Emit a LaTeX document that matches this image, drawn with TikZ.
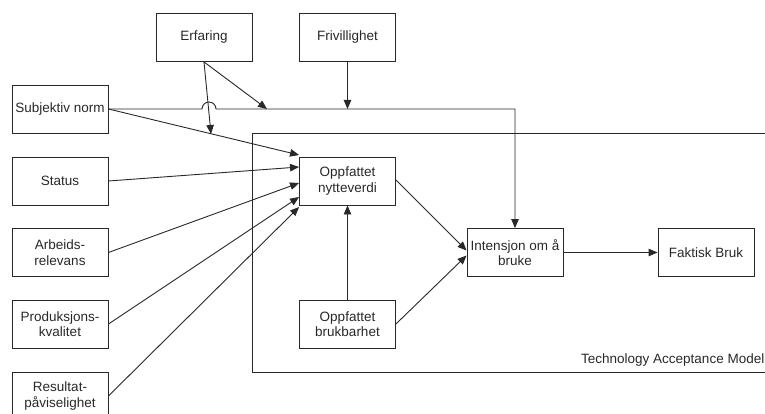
\documentclass[tikz,border=0pt]{standalone}
\usepackage{fontspec}
\setmainfont{Liberation Sans}
\usetikzlibrary{arrows.meta,calc}
\definecolor{ink}{RGB}{40,40,40}
\begin{document}
\begin{tikzpicture}[x=1pt,y=-1pt,
  every node/.style={font=\fontsize{13.5}{15.5}\selectfont, text=ink},
  box/.style={draw=ink, line width=0.9pt, minimum width=96pt, minimum height=48pt,
              inner sep=1pt, align=center},
  link/.style={draw=ink, line width=0.9pt},
  arr/.style={link, -{Triangle[length=9pt,width=7.5pt]}}]
  \useasboundingbox (0,0) rectangle (765,414);
  \begin{scope}
    \clip (0,0) rectangle (765,414);

    % framing box of the core model (open towards the right edge)
    \draw[link] (252,133) rectangle (800,372);
    \node[anchor=base east, inner sep=0pt] (tamlabel) at (764.5,363) {Technology Acceptance Model};

    % external factors
    \node[box] (erf)  at (204,37.5)  {Erfaring};
    \node[box] (fri)  at (347.5,37.5) {Frivillighet};
    \node[box] (subj) at (60,109)   {Subjektiv norm};
    \node[box] (stat) at (60,181)   {Status};
    \node[box] (arb)  at (60,252.5) {Arbeids-\\relevans};
    \node[box] (prod) at (60,324)   {Produksjons-\\kvalitet};
    \node[box] (res)  at (60,396)   {Resultat-\\påviselighet};

    % core model
    \node[box] (nytte) at (347.5,181) {Oppfattet\\nytteverdi};
    \node[box] (bruk)  at (347.5,324) {Oppfattet\\brukbarhet};
    \node[box] (int)   at (515,252.5) {Intensjon om å\\bruke};
    \node[box] (fak)   at (706,252.5) {Faktisk Bruk};

    % subjective norm straight to intention, hopping over the experience link
    \coordinate (hopL) at (202,109);
    \coordinate (corner) at (int.north |- subj.east);
    \draw[arr] (subj.east) -- (hopL) arc[start angle=180,end angle=0,radius=7pt]
      -- (corner) -- (int.north);

    % inputs to perceived usefulness
    \draw[arr] (subj.east) -- ([yshift=26pt]nytte.west);
    \draw[arr] (stat.east) -- ([yshift=14pt]nytte.west);
    \draw[arr] (arb.east)  -- ([yshift=-2pt]nytte.west);
    \draw[arr] (prod.east) -- ([yshift=-16pt]nytte.west);
    \draw[arr] (res.east)  -- ([yshift=-26pt]nytte.west);

    % moderating effects
    \coordinate (modA) at (211,134);
    \coordinate (modB) at (267,109);
    \draw[arr] (erf.south) -- (modA);
    \draw[arr] (erf.south) -- (modB);
    \draw[arr] (fri.south) -- (fri.south |- subj.east);

    % core relations
    \draw[arr] (bruk.north) -- (nytte.south);
    \draw[arr] ([yshift=1pt]nytte.east) -- ([yshift=2pt]int.west);
    \draw[arr] (bruk.east) -- ([yshift=-3pt]int.west);
    \draw[arr] (int.east) -- (fak.west);
  \end{scope}
\end{tikzpicture}
\end{document}
